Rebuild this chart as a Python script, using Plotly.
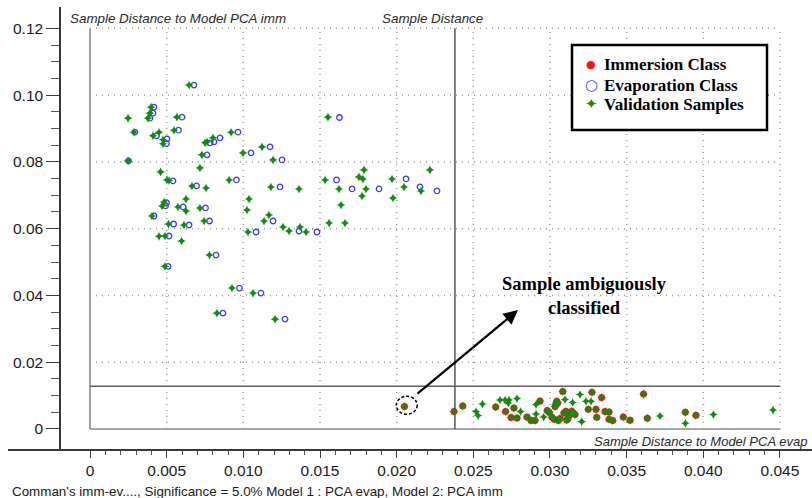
import numpy as np
import plotly.graph_objects as go

# ---- Immersion class samples (model PCA imm) ----
imm_x = [0.02051, 0.02374, 0.02431, 0.02646, 0.02710, 0.02765, 0.02746, 0.02785, 0.02850, 0.02876,
         0.02902, 0.02935, 0.02982, 0.02996, 0.03013, 0.03028, 0.03054, 0.03065, 0.03044, 0.03050,
         0.03037, 0.03033, 0.03083, 0.03091, 0.03104, 0.03116, 0.03124, 0.03142, 0.03152, 0.03163,
         0.03274, 0.03337, 0.03250, 0.03300, 0.03359, 0.03385, 0.03385, 0.03409, 0.03478, 0.03522,
         0.03610, 0.03635, 0.03883, 0.03952, 0.03109, 0.03305]
imm_y = [0.0067, 0.0052, 0.0069, 0.0066, 0.0052, 0.0063, 0.0034, 0.0033, 0.0036, 0.0025,
         0.0025, 0.0084, 0.0055, 0.0049, 0.0035, 0.0029, 0.0025, 0.0031, 0.0083, 0.0078,
         0.0073, 0.0067, 0.0112, 0.0048, 0.0053, 0.0030, 0.0040, 0.0053, 0.0048, 0.0043,
         0.0110, 0.0094, 0.0059, 0.0059, 0.0052, 0.0051, 0.0029, 0.0025, 0.0036, 0.0026,
         0.0105, 0.0032, 0.0050, 0.0041, 0.0027, 0.0035]

# ---- Evaporation class samples (model PCA evap) ----
evap_x = [0.00678, 0.00417, 0.00411, 0.00391, 0.00600, 0.00293, 0.00434, 0.00577, 0.00502, 0.00499,
          0.00783, 0.00809, 0.00848, 0.00965, 0.00763, 0.01050, 0.00251, 0.00541, 0.00955, 0.00695,
          0.01174, 0.01252, 0.01239, 0.01608, 0.01709, 0.01885, 0.02061, 0.02152, 0.02263, 0.01627,
          0.00499, 0.00492, 0.00607, 0.00753, 0.00417, 0.00545, 0.00646, 0.00779, 0.01194, 0.01363,
          0.01480, 0.01083, 0.00515, 0.00822, 0.00509, 0.00975, 0.01115, 0.00867, 0.01272]
evap_y = [0.1030, 0.0964, 0.0946, 0.0931, 0.0934, 0.0889, 0.0878, 0.0895, 0.0869, 0.0855,
          0.0857, 0.0860, 0.0872, 0.0889, 0.0821, 0.0827, 0.0803, 0.0743, 0.0746, 0.0728,
          0.0845, 0.0806, 0.0725, 0.0746, 0.0719, 0.0719, 0.0749, 0.0725, 0.0713, 0.0933,
          0.0678, 0.0668, 0.0665, 0.0662, 0.0638, 0.0614, 0.0611, 0.0623, 0.0623, 0.0593,
          0.0590, 0.0590, 0.0578, 0.0521, 0.0487, 0.0422, 0.0407, 0.0347, 0.0329]

# ---- Validation samples ----
val_x = [0.00646, 0.00398, 0.00391, 0.00248, 0.00378, 0.00567, 0.00287, 0.00450, 0.00411, 0.00548,
         0.00476, 0.00476, 0.00750, 0.00763, 0.00802, 0.00920, 0.00730, 0.00998, 0.00248, 0.00460,
         0.00717, 0.00502, 0.00515, 0.00907, 0.00665, 0.00757, 0.00626, 0.01037, 0.01122, 0.01194,
         0.01180, 0.01363, 0.01533, 0.01624, 0.01754, 0.01787, 0.01780, 0.01800, 0.01774, 0.01637,
         0.01552, 0.01970, 0.01976, 0.02048, 0.02159, 0.02217, 0.00483, 0.00470, 0.00574, 0.00626,
         0.00717, 0.00404, 0.00512, 0.00613, 0.00744, 0.01024, 0.01167, 0.01135, 0.01259, 0.01298,
         0.01370, 0.01409, 0.01030, 0.01559, 0.01663, 0.00450, 0.00489, 0.00597, 0.00779, 0.00489,
         0.00926, 0.01063, 0.00828, 0.01207,
         0.02051, 0.02374, 0.02431, 0.02646, 0.02710, 0.02765, 0.02746, 0.02785, 0.02850, 0.02876,
         0.02902, 0.02935, 0.02982, 0.02996, 0.03013, 0.03028, 0.03054, 0.03065, 0.03044, 0.03050,
         0.03037, 0.03033, 0.03083, 0.03091, 0.03104, 0.03116, 0.03124, 0.03142, 0.03152, 0.03163,
         0.03274, 0.03337, 0.03250, 0.03300, 0.03359, 0.03385, 0.03385, 0.03409, 0.03478, 0.03522,
         0.03610, 0.03635, 0.03883, 0.03952, 0.03109, 0.03305,
         0.02518, 0.02531, 0.02559, 0.02674, 0.02707, 0.02733, 0.02729, 0.02785, 0.02808, 0.02909,
         0.02909, 0.02959, 0.03098, 0.03196, 0.03235, 0.03268, 0.03207, 0.03148, 0.03718, 0.03883,
         0.04066, 0.04455]
val_y = [0.1030, 0.0964, 0.0946, 0.0931, 0.0931, 0.0934, 0.0889, 0.0889, 0.0878, 0.0895,
         0.0866, 0.0854, 0.0857, 0.0860, 0.0872, 0.0889, 0.0821, 0.0827, 0.0803, 0.0770,
         0.0782, 0.0746, 0.0744, 0.0746, 0.0728, 0.0722, 0.0689, 0.0689, 0.0845, 0.0806,
         0.0725, 0.0719, 0.0746, 0.0719, 0.0755, 0.0776, 0.0749, 0.0719, 0.0698, 0.0671,
         0.0934, 0.0749, 0.0692, 0.0725, 0.0713, 0.0776, 0.0680, 0.0668, 0.0665, 0.0653,
         0.0662, 0.0638, 0.0614, 0.0611, 0.0623, 0.0656, 0.0641, 0.0623, 0.0605, 0.0593,
         0.0605, 0.0590, 0.0590, 0.0617, 0.0617, 0.0577, 0.0578, 0.0563, 0.0521, 0.0487,
         0.0422, 0.0407, 0.0347, 0.0329,
         0.0067, 0.0052, 0.0069, 0.0066, 0.0052, 0.0063, 0.0034, 0.0033, 0.0036, 0.0025,
         0.0025, 0.0084, 0.0055, 0.0049, 0.0035, 0.0029, 0.0025, 0.0031, 0.0083, 0.0078,
         0.0073, 0.0067, 0.0112, 0.0048, 0.0053, 0.0030, 0.0040, 0.0053, 0.0048, 0.0043,
         0.0110, 0.0094, 0.0059, 0.0059, 0.0052, 0.0051, 0.0029, 0.0025, 0.0036, 0.0026,
         0.0105, 0.0032, 0.0050, 0.0041, 0.0027, 0.0035,
         0.0052, 0.0040, 0.0075, 0.0087, 0.0087, 0.0087, 0.0078, 0.0091, 0.0052, 0.0045,
         0.0073, 0.0036, 0.0088, 0.0103, 0.0083, 0.0083, 0.0022, 0.0079, 0.0039, 0.0017,
         0.0043, 0.0057]

assert len(imm_x) == len(imm_y) and len(evap_x) == len(evap_y) and len(val_x) == len(val_y)

# critical sample distances (significance 5 %)
crit_evap = 0.0238   # distance to model PCA evap (x)
crit_imm = 0.0128    # distance to model PCA imm (y)

# the ambiguously classified validation sample
amb_x, amb_y = 0.02066, 0.0071

# ticks
x_tick_vals = [0, 0.005, 0.010, 0.015, 0.020, 0.025, 0.030, 0.035, 0.040, 0.045]
x_tick_text = ["0", "0.005", "0.010", "0.015", "0.020", "0.025", "0.030", "0.035", "0.040", "0.045"]
y_tick_vals = [0, 0.02, 0.04, 0.06, 0.08, 0.10, 0.12]
y_tick_text = ["0", "0.02", "0.04", "0.06", "0.08", "0.10", "0.12"]

X_MAX, Y_MAX = 0.045, 0.12
x_range = [-0.00535, 0.04709]
y_range = [-0.0060, 0.1264]

# ---- canvas geometry ----
W, H = 812, 498
ML, MR, MT, MB = 8, 0, 7, 49
PW, PH = W - ML - MR, H - MT - MB


def px_x(p):
    return (p - ML) / PW


def px_y(p):
    return (H - MB - p) / PH


SANS = "Liberation Sans, Arial, sans-serif"
SERIF = "Liberation Serif, Times New Roman, serif"
SYM = "DejaVu Sans, sans-serif"
AXIS_COL = "#3a3a3a"
RED, BLUE, GREEN = "#ff1010", "#3c3cff", "#138a13"

fig = go.Figure()
fig.add_trace(go.Scatter(x=imm_x, y=imm_y, mode="markers", name="Immersion Class",
                         marker=dict(color=RED, size=7, line=dict(width=0)),
                         showlegend=False))
fig.add_trace(go.Scatter(x=evap_x, y=evap_y, mode="markers", name="Evaporation Class",
                         marker=dict(symbol="circle-open", color=BLUE, size=5.5,
                                     line=dict(width=1.3, color=BLUE)),
                         showlegend=False))
fig.add_trace(go.Scatter(x=val_x, y=val_y, mode="markers", name="Validation Samples",
                         marker=dict(symbol="star-diamond", color=GREEN, size=6.5,
                                     line=dict(width=0)),
                         showlegend=False))

shapes = []
grid_style = dict(color="#9a9a9a", width=1.5, dash="1px,5px")
for gx in x_tick_vals[1:]:
    shapes.append(dict(type="line", xref="x", yref="y", x0=gx, x1=gx, y0=0, y1=Y_MAX,
                       line=grid_style, layer="below"))
for gy in y_tick_vals[1:]:
    shapes.append(dict(type="line", xref="x", yref="y", x0=0, x1=X_MAX, y0=gy, y1=gy,
                       line=grid_style, layer="below"))
# zero frame lines
shapes.append(dict(type="line", xref="x", yref="y", x0=0, x1=0, y0=0, y1=Y_MAX,
                   line=dict(color="#a0a0a0", width=2), layer="below"))
shapes.append(dict(type="line", xref="x", yref="y", x0=0, x1=X_MAX, y0=0, y1=0,
                   line=dict(color="#8a8a8a", width=1.5), layer="below"))
# critical limits
shapes.append(dict(type="line", xref="x", yref="y", x0=crit_evap, x1=crit_evap, y0=0, y1=Y_MAX,
                   line=dict(color="#555555", width=1.5), layer="below"))
shapes.append(dict(type="line", xref="x", yref="y", x0=0, x1=X_MAX, y0=crit_imm, y1=crit_imm,
                   line=dict(color="#606060", width=1.5), layer="below"))
# ring round the ambiguous sample
shapes.append(dict(type="circle", xref="x", yref="y",
                   x0=amb_x - 0.00068, x1=amb_x + 0.00068,
                   y0=amb_y - 0.0027, y1=amb_y + 0.0027,
                   line=dict(color="black", width=1.5, dash="3px,2px")))
# legend box
shapes.append(dict(type="rect", xref="paper", yref="paper",
                   x0=px_x(572), x1=px_x(767), y0=px_y(130), y1=px_y(45),
                   fillcolor="white", line=dict(color="black", width=2.5), layer="above"))

annotations = []


def note(text, x, y, size, family=SANS, color="#2a2a2a", xanchor="left", yanchor="middle"):
    annotations.append(dict(text=text, x=px_x(x), y=px_y(y), xref="paper", yref="paper",
                            xanchor=xanchor, yanchor=yanchor, showarrow=False,
                            font=dict(family=family, size=size, color=color)))


note("<i>Sample Distance to Model PCA imm</i>", 68, 18, 13.4)
note("<i>Sample Distance</i>", 432.7, 18, 13.4, xanchor="center")
note("<i>Sample Distance to Model PCA evap</i>", 592, 441, 13.0)
note("Comman's imm-ev...., Significance = 5.0% Model 1 : PCA evap, Model 2: PCA imm",
     10, 491, 13.4, color="#1a1a1a")
note("<b>Sample ambiguously<br>classified</b>", 584, 295.5, 18.5, family=SERIF, color="black",
     xanchor="center")

# legend entries
note("●", 591, 64.5, 11, family=SYM, color=RED, xanchor="center")
note("○", 591, 85, 15, family=SYM, color=BLUE, xanchor="center")
note("✦", 591, 103.5, 15, family=SYM, color=GREEN, xanchor="center")
note("<b>Immersion Class</b>", 602, 64.5, 17, family=SERIF, color="black")
note("<b>Evaporation Class</b>", 602, 85, 17, family=SERIF, color="black")
note("<b>Validation Samples</b>", 602, 104, 17, family=SERIF, color="black")

# arrow pointing from the ring to the comment
annotations.append(dict(x=0.02791, y=0.0356, ax=0.02126, ay=0.0102,
                        xref="x", yref="y", axref="x", ayref="y", text="",
                        showarrow=True, arrowhead=2, arrowsize=1.3, arrowwidth=2.2,
                        arrowcolor="black"))

x_minor = [v for v in np.round(np.arange(0, X_MAX + 1e-9, 0.001), 4)]
y_minor = [v for v in np.round(np.arange(0, Y_MAX + 1e-9, 0.005), 4)]

tick_font = dict(family=SANS, size=15.5, color="#1a1a1a")

fig.update_layout(
    width=W, height=H,
    margin=dict(l=ML, r=MR, t=MT, b=MB, pad=0),
    paper_bgcolor="white", plot_bgcolor="white",
    showlegend=False,
    shapes=shapes,
    annotations=annotations,
    xaxis=dict(range=x_range, showgrid=False, zeroline=False, showline=True,
               linecolor=AXIS_COL, linewidth=1.5,
               ticks="outside", ticklen=7, tickwidth=1.3, tickcolor=AXIS_COL,
               tickmode="array", tickvals=x_tick_vals, ticktext=x_tick_text,
               tickfont=tick_font, ticklabelstandoff=0,
               minor=dict(tickmode="array", tickvals=x_minor, ticks="outside", ticklen=4,
                          tickwidth=1, tickcolor="#555555", showgrid=False)),
    yaxis=dict(range=y_range, anchor="free", position=px_x(60),
               showgrid=False, zeroline=False, showline=True,
               linecolor=AXIS_COL, linewidth=1.5,
               ticks="outside", ticklen=13, tickwidth=1.3, tickcolor=AXIS_COL,
               tickmode="array", tickvals=y_tick_vals, ticktext=y_tick_text,
               tickfont=tick_font,
               minor=dict(tickmode="array", tickvals=y_minor, ticks="outside", ticklen=8,
                          tickwidth=1, tickcolor="#555555", showgrid=False)),
)

fig.write_html("out.html")
